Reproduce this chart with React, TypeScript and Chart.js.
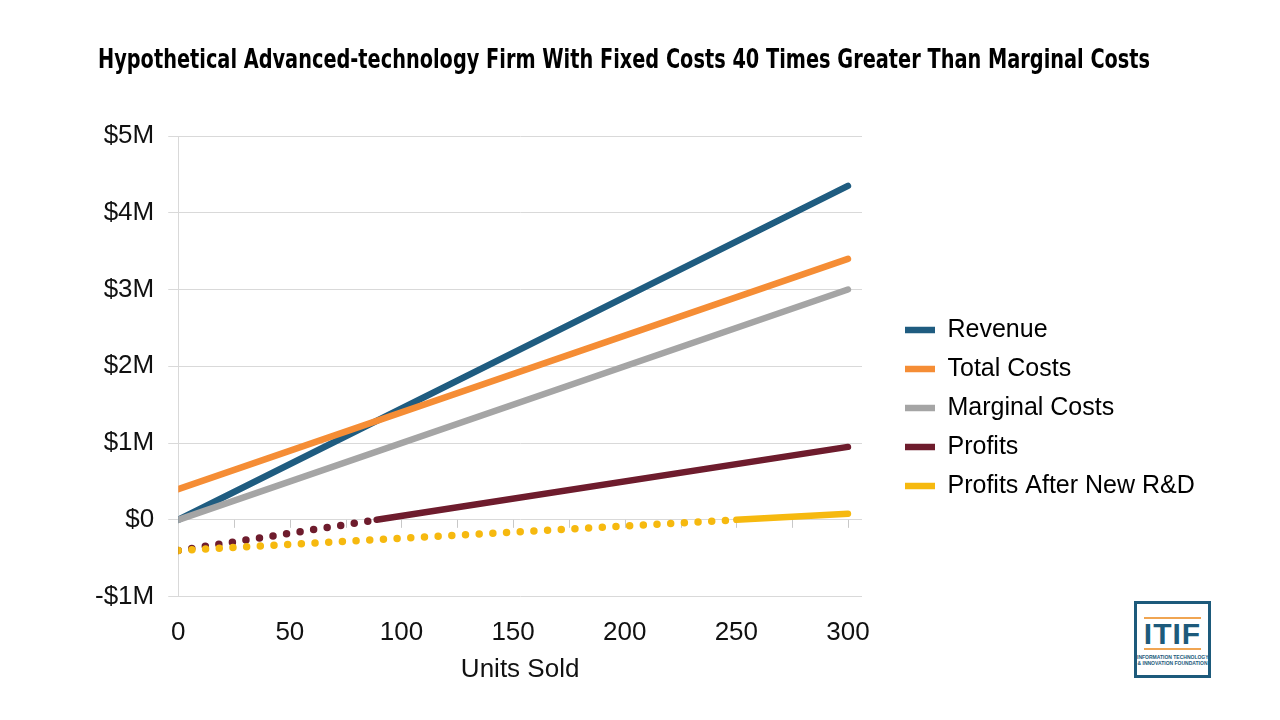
import { useEffect, useRef } from 'react';
import { Chart, registerables } from 'chart.js';

Chart.register(...registerables);

// ---- Data (values in $ millions, x in units sold) ----
const lineUnits = [0, 300];
const revenue = [0, 4.35];
const totalCosts = [0.4, 3.4];
const marginalCosts = [0, 3.0];
const profitUnits = [0, 88.9, 300];
const profits = [-0.4, 0, 0.95];
const rdUnits = [0, 250, 300];
const profitsAfterRD = [-0.4, 0, 0.08];

const xTickValues = [0, 50, 100, 150, 200, 250, 300];
const yTickValues = [-1, 0, 1, 2, 3, 4, 5];

const seriesNames = ['Revenue', 'Total Costs', 'Marginal Costs', 'Profits', 'Profits After New R&D'];
const seriesColors = ['#1f5c80', '#f58d35', '#a5a5a5', '#6e1c2d', '#f6b90f'];

const TITLE = 'Hypothetical Advanced-technology Firm With Fixed Costs 40 Times Greater Than Marginal Costs';
const TITLE_WIDTH = 1052;
const LEGEND_WIDTH = 330;

const toPoints = (xs: number[], ys: number[]) => xs.map((x, i) => ({ x, y: ys[i] }));

const DOTS = [0, 13.7];

const zeroTicksPlugin = {
  id: 'zeroTicks',
  beforeDatasetsDraw(chart: any) {
    const { ctx, scales } = chart;
    const xs = scales.x;
    const ys = scales.y;
    const y0 = ys.getPixelForValue(0);
    ctx.save();
    ctx.strokeStyle = '#c8c8c8';
    ctx.lineWidth = 1;
    for (let v = 25; v <= 300; v += 25) {
      const px = Math.round(xs.getPixelForValue(v)) + 0.5;
      ctx.beginPath();
      ctx.moveTo(px, y0);
      ctx.lineTo(px, y0 + 8);
      ctx.stroke();
    }
    ctx.restore();
  },
};

const legendWidthPlugin = {
  id: 'legendWidth',
  beforeLayout(chart: any) {
    const lg = chart.legend;
    if (lg && !lg.__patched) {
      const orig = lg.fit;
      lg.fit = function (this: any) {
        orig.call(this);
        if (this.options.display) this.width = LEGEND_WIDTH;
      };
      lg.__patched = true;
    }
  },
};

export default function App() {
  const canvasRef = useRef<HTMLCanvasElement | null>(null);
  const titleRef = useRef<HTMLDivElement | null>(null);

  useEffect(() => {
    document.body.style.margin = '0';
    const t = titleRef.current;
    if (t) {
      t.style.transform = 'none';
      const w = t.scrollWidth;
      if (w > 0) t.style.transform = `scaleX(${TITLE_WIDTH / w})`;
    }
    const canvas = canvasRef.current;
    if (!canvas) return;
    const font = "'Liberation Sans', Arial, sans-serif";
    const dotted = (c: any) => (c.p0.parsed.y < 0 ? DOTS : undefined);
    const dottedWidth = (c: any) => (c.p0.parsed.y < 0 ? 7.5 : undefined);
    const base = (i: number, data: any[], extra: any = {}) => ({
      label: seriesNames[i],
      data,
      borderColor: seriesColors[i],
      backgroundColor: seriesColors[i],
      borderWidth: 6.5,
      borderCapStyle: 'round',
      borderJoinStyle: 'round',
      pointRadius: 0,
      pointHoverRadius: 0,
      fill: false,
      tension: 0,
      order: 5 - i,
      ...extra,
    });
    const chart = new Chart(canvas, {
      type: 'line',
      data: {
        datasets: [
          base(0, toPoints(lineUnits, revenue)),
          base(1, toPoints(lineUnits, totalCosts)),
          base(2, toPoints(lineUnits, marginalCosts)),
          base(3, toPoints(profitUnits, profits), { segment: { borderDash: dotted, borderWidth: dottedWidth } }),
          base(4, toPoints(rdUnits, profitsAfterRD), { segment: { borderDash: dotted, borderWidth: dottedWidth } }),
        ] as any,
      },
      options: {
        animation: false,
        responsive: false,
        maintainAspectRatio: false,
        events: [],
        layout: { padding: { top: 115, bottom: 19, left: 81, right: 59 } },
        scales: {
          x: {
            type: 'linear',
            min: 0,
            max: 306.3,
            afterBuildTicks: (s: any) => {
              s.ticks = xTickValues.map((value) => ({ value }));
            },
            grid: { display: false, drawTicks: false },
            border: { display: false },
            ticks: {
              color: '#111',
              font: { family: font, size: 26 },
              padding: 21,
              maxRotation: 0,
              autoSkip: false,
            },
            title: {
              display: true,
              text: 'Units Sold',
              color: '#111',
              font: { family: font, size: 26 },
              padding: { top: -16, bottom: 16 },
            },
          },
          x2: {
            type: 'linear',
            axis: 'x',
            position: 'top',
            display: true,
            grid: { display: false, drawTicks: false },
            border: { display: false },
            ticks: { display: false },
            afterFit: (s: any) => {
              s.height = 21;
            },
          },
          y: {
            type: 'linear',
            min: -1,
            max: 5,
            afterBuildTicks: (s: any) => {
              s.ticks = yTickValues.map((value) => ({ value }));
            },
            grid: { color: '#d9d9d9', tickLength: 10, drawTicks: true, tickColor: '#d9d9d9' },
            border: { display: true, color: '#d9d9d9' },
            ticks: {
              color: '#111',
              font: { family: font, size: 26 },
              padding: 14,
              callback: (v: any) => (v < 0 ? `-$${-v}M` : v === 0 ? '$0' : `$${v}M`),
            },
          },
          y2: {
            type: 'linear',
            axis: 'y',
            position: 'right',
            display: true,
            grid: { display: false, drawTicks: false },
            border: { display: false },
            ticks: { display: false },
            afterFit: (s: any) => {
              s.width = 29;
            },
          },
        },
        plugins: {
          legend: {
            position: 'right',
            align: 'center',
            labels: {
              usePointStyle: true,
              pointStyle: 'line',
              pointStyleWidth: 30,
              color: '#000',
              font: { family: font, size: 25 },
              padding: 14,
              sort: (a: any, b: any) => a.datasetIndex - b.datasetIndex,
            },
          },
          tooltip: { enabled: false },
          title: { display: false },
        },
      } as any,
      plugins: [zeroTicksPlugin, legendWidthPlugin],
    });
    return () => chart.destroy();
  }, []);

  return (
    <div style={{ position: 'fixed', left: 0, top: 0, width: 1280, height: 720, background: '#fff', overflow: 'hidden' }}>
      <canvas ref={canvasRef} width={1280} height={720} style={{ position: 'absolute', left: 0, top: 0, width: 1280, height: 720 }} />
      <div
        ref={titleRef}
        style={{
          position: 'absolute',
          left: 98,
          top: 43,
          fontFamily: "'Liberation Sans Narrow', 'DejaVu Sans Condensed', 'DejaVu Sans', Arial, sans-serif",
          fontWeight: 'bold',
          fontSize: 26,
          lineHeight: '32px',
          color: '#000',
          whiteSpace: 'nowrap',
          transformOrigin: '0 0',
        }}
      >
        {TITLE}
      </div>
      <div
        style={{
          position: 'absolute',
          left: 1134,
          top: 601,
          width: 77,
          height: 77,
          border: '3px solid #1d5a7b',
          boxSizing: 'border-box',
          background: '#fff',
        }}
      >
        <div style={{ position: 'absolute', left: 7, right: 7, top: 13, height: 2, background: '#f0a552' }} />
        <div
          style={{
            position: 'absolute',
            left: 0,
            right: 0,
            top: 14,
            textAlign: 'center',
            fontFamily: "'Liberation Sans', Arial, sans-serif",
            fontWeight: 'bold',
            fontSize: 30,
            lineHeight: '32px',
            color: '#1d5a7b',
            letterSpacing: 1,
          }}
        >
          ITIF
        </div>
        <div style={{ position: 'absolute', left: 7, right: 7, top: 44, height: 2, background: '#f0a552' }} />
        <div
          style={{
            position: 'absolute',
            left: 0,
            right: 0,
            top: 50,
            textAlign: 'center',
            fontFamily: "'Liberation Sans Narrow', 'Liberation Sans', Arial, sans-serif",
            fontWeight: 'bold',
            fontSize: 5,
            lineHeight: '6px',
            color: '#1d5a7b',
            whiteSpace: 'nowrap',
          }}
        >
          INFORMATION TECHNOLOGY
          <br />& INNOVATION FOUNDATION
        </div>
      </div>
    </div>
  );
}
